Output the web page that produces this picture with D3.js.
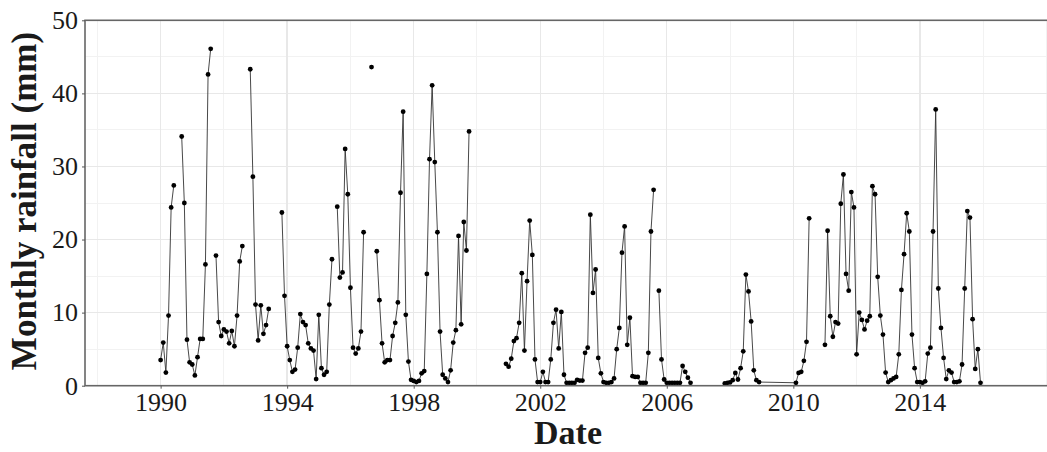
<!DOCTYPE html>
<html>
<head>
<meta charset="utf-8" />
<title>Monthly rainfall</title>
<style>
body { margin: 0; background: #fff; }
#graph { width: 1047px; height: 452px; overflow: hidden; }
text { font-family: "Liberation Serif", "Times New Roman", serif; fill: #1a1a1a; }
.grid line { shape-rendering: crispEdges; }
</style>
</head>
<body>
<div id="graph"></div>

<script src="https://cdnjs.cloudflare.com/ajax/libs/d3/7.8.5/d3.min.js"></script>
<script>
// monthly rainfall (mm) from Jan 1990, null = missing value (line breaks)
var startYear = 1990
var rainfall = [
    // 1990
    3.5, 5.9, 1.8, 9.6, 24.4, 27.4, null, null, 34.1, 25.0, 6.3, 3.2,
    // 1991
    2.9, 1.4, 3.9, 6.4, 6.4, 16.6, 42.6, 46.1, null, 17.8, 8.7, 6.8,
    // 1992
    7.7, 7.4, 5.8, 7.5, 5.4, 9.6, 17.0, 19.1, null, null, 43.3, 28.6,
    // 1993
    11.1, 6.2, 11.0, 7.1, 8.3, 10.5, null, null, null, null, 23.7, 12.3,
    // 1994
    5.4, 3.5, 1.9, 2.2, 5.2, 9.8, 8.7, 8.3, 5.8, 5.1, 4.8, 0.9,
    // 1995
    9.7, 2.4, 1.5, 1.9, 11.1, 17.3, null, 24.5, 14.8, 15.5, 32.4, 26.2,
    // 1996
    13.4, 5.2, 4.4, 5.1, 7.4, 21.0, null, null, 43.6, null, 18.4, 11.7,
    // 1997
    5.8, 3.2, 3.5, 3.5, 6.8, 8.6, 11.4, 26.4, 37.5, 9.7, 3.3, 0.8,
    // 1998
    0.65, 0.5, 0.65, 1.7, 2.0, 15.3, 31.0, 41.1, 30.6, 21.0, 7.4, 1.5,
    // 1999
    1.0, 0.5, 2.1, 5.9, 7.6, 20.5, 8.4, 22.4, 18.5, 34.8, null, null,
    // 2000
    null, null, null, null, null, null, null, null, null, null, null, 3.0,
    // 2001
    2.6, 3.7, 6.1, 6.5, 8.6, 15.4, 4.8, 14.3, 22.6, 17.9, 3.6, 0.5,
    // 2002
    0.5, 1.9, 0.5, 0.5, 3.6, 8.6, 10.4, 5.1, 10.1, 1.5, 0.4, 0.4,
    // 2003
    0.4, 0.4, 0.8, 0.7, 0.7, 4.5, 5.2, 23.4, 12.7, 15.9, 3.8, 1.7,
    // 2004
    0.5, 0.4, 0.4, 0.5, 1.0, 5.0, 7.9, 18.2, 21.8, 5.6, 9.3, 1.3,
    // 2005
    1.2, 1.2, 0.4, 0.4, 0.4, 4.5, 21.1, 26.8, null, 13.0, 3.6, 0.85,
    // 2006
    0.4, 0.4, 0.4, 0.4, 0.4, 0.4, 2.7, 1.9, 1.1, 0.4, null, null,
    // 2007
    null, null, null, null, null, null, null, null, null, null, 0.3, 0.4,
    // 2008
    0.45, 0.75, 1.75, 0.85, 2.4, 4.7, 15.2, 12.9, 8.8, 2.1, 0.75, 0.5,
    // 2009
    null, null, null, null, null, null, null, null, null, null, null, null,
    // 2010
    null, 0.4, 1.75, 1.9, 3.4, 6.0, 22.9, null, null, null, null, null,
    // 2011
    5.6, 21.2, 9.5, 6.7, 8.7, 8.5, 24.9, 28.9, 15.3, 13.0, 26.5, 24.4,
    // 2012
    4.3, 10.0, 9.0, 7.7, 8.9, 9.5, 27.3, 26.2, 14.9, 9.6, 7.0, 1.8,
    // 2013
    0.5, 0.75, 1.0, 1.2, 4.3, 13.1, 18.0, 23.6, 21.1, 7.0, 2.4, 0.5,
    // 2014
    0.5, 0.4, 0.6, 4.4, 5.2, 21.1, 37.8, 13.3, 7.9, 3.8, 0.9, 2.1,
    // 2015
    1.8, 0.5, 0.5, 0.6, 2.9, 13.3, 23.9, 23.0, 9.1, 2.3, 5.0, 0.4
]
// months with no record at all: the line is drawn straight across them
var noRecord = ["2009-01", "2010-01"]

var xTicks = [1990, 1994, 1998, 2002, 2006, 2010, 2014]
var xMinor = [1988, 1992, 1996, 2000, 2004, 2008, 2012, 2016, 2018]
var yTicks = [0, 10, 20, 30, 40, 50]
var yMinor = [5, 15, 25, 35, 45]

!(function(){
    "use strict"

    var width = 1047, height = 452
    var margin = {top: 20.3, left: 85, bottom: 66.3, right: -1}
    var chartWidth = width - margin.left - margin.right
    var chartHeight = height - margin.top - margin.bottom

    var svg = d3.select("#graph").append("svg")
        .attr("width", width).attr("height", height)

    var xScale = d3.scaleLinear().domain([1987.61, 2018.05]).range([0, chartWidth])
    var yScale = d3.scaleLinear().domain([0, 50]).range([chartHeight, 0])

    function monthIndex(s) {
        var p = s.split("-")
        return (+p[0] - startYear) * 12 + (+p[1] - 1)
    }
    var gapFrom = monthIndex(noRecord[0]), gapTo = monthIndex(noRecord[1])

    var rows = rainfall.map(function(v, i){
        return {t: startYear + i / 12, value: v, i: i}
    }).filter(function(d){ return d.i < gapFrom || d.i > gapTo })

    var chart = svg.append("g")
        .attr("transform", "translate(" + [margin.left, margin.top] + ")")

    svg.append("defs").append("clipPath").attr("id", "panel")
        .append("rect").attr("width", chartWidth).attr("height", chartHeight)

    // grid
    var grid = chart.append("g").attr("class", "grid")
    grid.selectAll(".vminor").data(xMinor).enter().append("line")
        .attr("x1", xScale).attr("x2", xScale)
        .attr("y1", 0).attr("y2", chartHeight)
        .attr("stroke", "#f2f2f2").attr("stroke-width", 1)
    grid.selectAll(".hminor").data(yMinor).enter().append("line")
        .attr("x1", 0).attr("x2", chartWidth)
        .attr("y1", yScale).attr("y2", yScale)
        .attr("stroke", "#f2f2f2").attr("stroke-width", 1)
    grid.selectAll(".vmajor").data(xTicks).enter().append("line")
        .attr("x1", xScale).attr("x2", xScale)
        .attr("y1", 0).attr("y2", chartHeight)
        .attr("stroke", "#e8e8e8").attr("stroke-width", 1.4)
    grid.selectAll(".hmajor").data(yTicks).enter().append("line")
        .attr("x1", 0).attr("x2", chartWidth)
        .attr("y1", yScale).attr("y2", yScale)
        .attr("stroke", "#e8e8e8").attr("stroke-width", 1.4)

    // series
    var plot = chart.append("g").attr("clip-path", "url(#panel)")
    var line = d3.line()
        .defined(function(d){ return d.value !== null })
        .x(function(d){ return xScale(d.t) })
        .y(function(d){ return yScale(d.value) })

    plot.append("path").datum(rows)
        .attr("d", line)
        .attr("fill", "none")
        .attr("stroke", "#333")
        .attr("stroke-width", 0.9)

    plot.selectAll(".pt").data(rows.filter(function(d){ return d.value !== null }))
        .enter().append("circle")
        .attr("class", "pt")
        .attr("cx", function(d){ return xScale(d.t) })
        .attr("cy", function(d){ return yScale(d.value) })
        .attr("r", 2.4)
        .attr("fill", "#000")

    // border
    chart.append("rect")
        .attr("width", chartWidth).attr("height", chartHeight)
        .attr("fill", "none").attr("stroke", "#666").attr("stroke-width", 1.6)

    // axes
    var xAxis = d3.axisBottom(xScale).tickValues(xTicks)
        .tickFormat(d3.format("d")).tickSize(3).tickPadding(4)
    var gx = chart.append("g")
        .attr("transform", "translate(0," + chartHeight + ")")
        .call(xAxis)
    gx.select(".domain").remove()
    gx.selectAll(".tick line").attr("stroke", "#555")
    gx.selectAll("text").attr("font-size", "26px").attr("fill", "#1a1a1a")
        .attr("font-family", "'Liberation Serif', 'Times New Roman', serif")

    var yAxis = d3.axisLeft(yScale).tickValues(yTicks).tickSize(3).tickPadding(4)
    var gy = chart.append("g").call(yAxis)
    gy.select(".domain").remove()
    gy.selectAll(".tick line").attr("stroke", "#555")
    gy.selectAll("text").attr("font-size", "26px").attr("fill", "#1a1a1a")
        .attr("font-family", "'Liberation Serif', 'Times New Roman', serif")

    // titles
    svg.append("text")
        .attr("x", margin.left + (width - margin.left) / 2 + 2)
        .attr("y", 444)
        .attr("text-anchor", "middle")
        .attr("font-size", "34px").attr("font-weight", "bold")
        .text("Date")

    svg.append("text")
        .attr("transform", "translate(36," + (margin.top + chartHeight / 2 - 2) + ") rotate(-90)")
        .attr("text-anchor", "middle")
        .attr("font-size", "35px").attr("font-weight", "bold")
        .text("Monthly rainfall (mm)")
}());
</script>
</body>
</html>
